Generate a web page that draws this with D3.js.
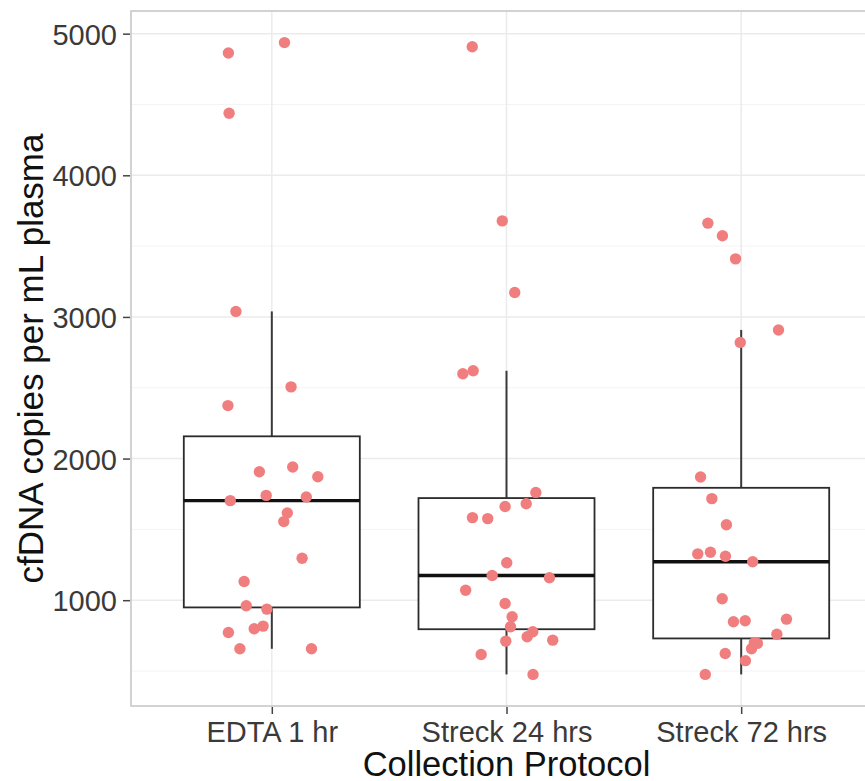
<!DOCTYPE html>
<html>
<head>
<meta charset="utf-8">
<script src="https://cdn.jsdelivr.net/npm/d3@7"></script>
<style>
  body { margin: 0; background: #fff; }
  text { font-family: "Liberation Sans", Arial, Helvetica, sans-serif; }
</style>
</head>
<body>
<div id="chart"></div>
<script>
var categories = ["EDTA 1 hr", "Streck 24 hrs", "Streck 72 hrs"];

var edtaValues = [4864, 4937, 4438, 3039, 2506, 2374, 1907, 1940, 1872, 1703, 1740, 1729,
                  1616, 1555, 1296, 1132, 961, 937, 772, 798, 817, 657, 657];
var edtaJitter = [-0.185, 0.054, -0.182, -0.153, 0.082, -0.187, -0.053, 0.089, 0.196, -0.177, -0.024, 0.147,
                  0.066, 0.051, 0.129, -0.118, -0.109, -0.021, -0.185, -0.075, -0.037, -0.136, 0.169];

var streck24Values = [4908, 3678, 3172, 2599, 2620, 1761, 1681, 1662, 1583, 1576, 1264, 1174,
                      1158, 1070, 977, 883, 813, 777, 742, 711, 718, 617, 476];
var streck24Jitter = [-0.146, -0.018, 0.035, -0.186, -0.142, 0.125, 0.084, -0.006, -0.145, -0.08, 0.001, -0.061,
                      0.183, -0.174, -0.006, 0.024, 0.017, 0.112, 0.088, -0.003, 0.197, -0.108, 0.113];

var streck72Values = [3662, 3573, 3410, 2908, 2820, 1870, 1717, 1533, 1327, 1338, 1310, 1271,
                      1010, 848, 855, 866, 760, 695, 700, 657, 624, 573, 476];
var streck72Jitter = [-0.142, -0.08, -0.024, 0.159, -0.004, -0.173, -0.125, -0.063, -0.185, -0.131, -0.067, 0.049,
                      -0.081, -0.033, 0.017, 0.193, 0.152, 0.069, 0.056, 0.044, -0.068, 0.018, -0.153];

var yTicks = [1000, 2000, 3000, 4000, 5000];
var yMinor = [500, 1500, 2500, 3500, 4500];

var groups = [
  { key: categories[0], values: edtaValues, jitter: edtaJitter },
  { key: categories[1], values: streck24Values, jitter: streck24Jitter },
  { key: categories[2], values: streck72Values, jitter: streck72Jitter }
];

var width = 865, height = 781;
var panel = { left: 131, right: 882, top: 11, bottom: 706 };

var svg = d3.select("#chart").append("svg")
  .attr("width", width)
  .attr("height", height);

var xScale = d3.scalePoint()
  .domain(categories)
  .range([panel.left, panel.right])
  .padding(0.6);

var step = xScale.step();

// ggplot style 5% expansion of data range
var allValues = d3.merge(groups.map(function(g) { return g.values; }));
var ext = d3.extent(allValues);
var pad = (ext[1] - ext[0]) * 0.05;
var yScale = d3.scaleLinear()
  .domain([ext[0] - pad, ext[1] + pad])
  .range([panel.bottom, panel.top]);

svg.append("defs").append("clipPath").attr("id", "clip")
  .append("rect")
  .attr("x", panel.left).attr("y", panel.top)
  .attr("width", panel.right - panel.left)
  .attr("height", panel.bottom - panel.top);

var plot = svg.append("g").attr("clip-path", "url(#clip)");

// Grid
plot.selectAll(".minor").data(yMinor).enter().append("line")
  .attr("x1", panel.left).attr("x2", panel.right)
  .attr("y1", function(d) { return yScale(d); })
  .attr("y2", function(d) { return yScale(d); })
  .attr("stroke", "#F4F4F4").attr("stroke-width", 1);

plot.selectAll(".major").data(yTicks).enter().append("line")
  .attr("x1", panel.left).attr("x2", panel.right)
  .attr("y1", function(d) { return yScale(d); })
  .attr("y2", function(d) { return yScale(d); })
  .attr("stroke", "#EBEBEB").attr("stroke-width", 1.5);

plot.selectAll(".vmajor").data(categories).enter().append("line")
  .attr("x1", function(d) { return xScale(d); })
  .attr("x2", function(d) { return xScale(d); })
  .attr("y1", panel.top).attr("y2", panel.bottom)
  .attr("stroke", "#EBEBEB").attr("stroke-width", 1.5);

// Box stats
function boxStats(values) {
  var s = values.slice().sort(d3.ascending);
  var q1 = d3.quantile(s, 0.25), med = d3.quantile(s, 0.5), q3 = d3.quantile(s, 0.75);
  var iqr = q3 - q1;
  var lo = d3.min(s.filter(function(v) { return v >= q1 - 1.5 * iqr; }));
  var hi = d3.max(s.filter(function(v) { return v <= q3 + 1.5 * iqr; }));
  return { q1: q1, med: med, q3: q3, lo: lo, hi: hi };
}

var boxW = step * 0.75;
var boxColor = "#2b2b2b";

groups.forEach(function(g) {
  var st = boxStats(g.values);
  var cx = xScale(g.key);
  var bg = plot.append("g");
  bg.append("line")
    .attr("x1", cx).attr("x2", cx)
    .attr("y1", yScale(st.q3)).attr("y2", yScale(st.hi))
    .attr("stroke", "#3a3a3a").attr("stroke-width", 2);
  bg.append("line")
    .attr("x1", cx).attr("x2", cx)
    .attr("y1", yScale(st.q1)).attr("y2", yScale(st.lo))
    .attr("stroke", "#3a3a3a").attr("stroke-width", 2);
  bg.append("rect")
    .attr("x", cx - boxW / 2).attr("width", boxW)
    .attr("y", yScale(st.q3)).attr("height", yScale(st.q1) - yScale(st.q3))
    .attr("fill", "#fff").attr("stroke", boxColor).attr("stroke-width", 1.8);
  bg.append("line")
    .attr("x1", cx - boxW / 2).attr("x2", cx + boxW / 2)
    .attr("y1", yScale(st.med)).attr("y2", yScale(st.med))
    .attr("stroke", "#111").attr("stroke-width", 3.4);
});

// Jittered points
groups.forEach(function(g) {
  var pts = g.values.map(function(v, i) { return { v: v, j: g.jitter[i] }; });
  plot.append("g").selectAll("circle")
    .data(pts)
    .enter().append("circle")
    .attr("cx", function(d) { return xScale(g.key) + d.j * step; })
    .attr("cy", function(d) { return yScale(d.v); })
    .attr("r", 5.7)
    .attr("fill", "#F17E7E");
});

// Panel border
svg.append("rect")
  .attr("x", panel.left).attr("y", panel.top)
  .attr("width", panel.right - panel.left)
  .attr("height", panel.bottom - panel.top)
  .attr("fill", "none")
  .attr("stroke", "#C4C4C4")
  .attr("stroke-width", 1.5);

// Axes
var yAxis = d3.axisLeft(yScale).tickValues(yTicks).tickSize(7).tickPadding(6).tickFormat(d3.format("d"));
var yG = svg.append("g")
  .attr("transform", "translate(" + (panel.left - 1) + ",0)")
  .call(yAxis);
yG.select(".domain").remove();
yG.selectAll(".tick line").attr("stroke", "#444").attr("stroke-width", 1.5);
yG.selectAll(".tick text")
  .attr("fill", "#3a3a3a")
  .style("font-size", "29px")
  .attr("dy", "0.36em");

var xAxis = d3.axisBottom(xScale).tickSize(7).tickPadding(7);
var xG = svg.append("g")
  .attr("transform", "translate(0," + (panel.bottom + 1) + ")")
  .call(xAxis);
xG.select(".domain").remove();
xG.selectAll(".tick line").attr("stroke", "#444").attr("stroke-width", 1.5);
xG.selectAll(".tick text")
  .attr("fill", "#3a3a3a")
  .style("font-size", "29px")
  .attr("dy", "0.71em");

// Titles
svg.append("text")
  .attr("x", (panel.left + panel.right) / 2)
  .attr("y", 776)
  .style("text-anchor", "middle")
  .style("font-size", "34.5px")
  .attr("fill", "#111")
  .text("Collection Protocol");

svg.append("text")
  .attr("transform", "translate(43," + ((panel.top + panel.bottom) / 2) + ") rotate(-90)")
  .style("text-anchor", "middle")
  .style("font-size", "35px")
  .attr("fill", "#111")
  .text("cfDNA copies per mL plasma");
</script>
</body>
</html>
